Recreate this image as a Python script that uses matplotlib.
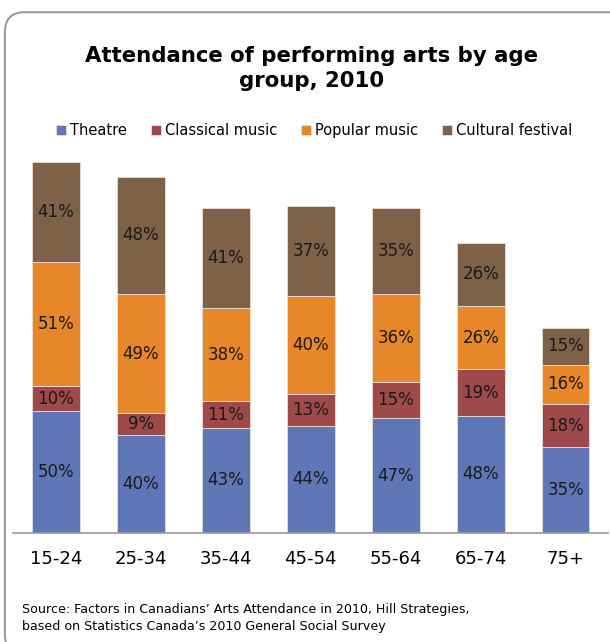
import matplotlib
matplotlib.use("Agg")
import matplotlib.pyplot as plt
from matplotlib.patches import FancyBboxPatch
import numpy as np

# Data
ages = ["15-24", "25-34", "35-44", "45-54", "55-64", "65-74", "75+"]
theatre = [50, 40, 43, 44, 47, 48, 35]
classical = [10, 9, 11, 13, 15, 19, 18]
popular = [51, 49, 38, 40, 36, 26, 16]
festival = [41, 48, 41, 37, 35, 26, 15]

series_names = ["Theatre", "Classical music", "Popular music", "Cultural festival"]
colors = ["#5F77B7", "#9E4A4A", "#E8862A", "#7E6248"]

plt.rcParams['font.family'] = ['DejaVu Sans']

fig = plt.figure(figsize=(6.10, 6.42), dpi=100)

# rounded border around the chart
frame = FancyBboxPatch((0.008, -0.02), 1.05, 1.001, boxstyle="round,pad=0,rounding_size=0.032",
                       transform=fig.transFigure, fill=False, edgecolor="#9a9a9a", linewidth=1.5)
fig.patches.append(frame)

ax = fig.add_axes([0.022, 0.170, 0.975, 0.608])

x = np.arange(len(ages))
bottom = np.zeros(len(ages))
for name, vals, col in zip(series_names, [theatre, classical, popular, festival], colors):
    vals = np.array(vals)
    ax.bar(x, vals, width=0.56, bottom=bottom, color=col, edgecolor="#e8e0d8",
           linewidth=0.6, label=name)
    for xi, b, v in zip(x, bottom, vals):
        ax.text(xi, b + v / 2, f"{v}%", ha="center", va="center", fontsize=12, color="#1a1a1a")
    bottom += vals

ax.set_xlim(-0.5, 6.5)
ax.set_ylim(0, 160)
ax.set_xticks(x)
ax.set_xticklabels(ages, fontsize=13)
ax.tick_params(axis="x", length=0, pad=12)
ax.set_yticks([])
for s in ["top", "right", "left"]:
    ax.spines[s].set_visible(False)
ax.spines["bottom"].set_color("#9a9a9a")
ax.spines["bottom"].set_linewidth(1.2)

fig.text(0.51, 0.893, "Attendance of performing arts by age\ngroup, 2010", ha="center", va="center",
         fontsize=15.3, fontweight="bold", linespacing=1.35)

fig.legend(loc="center", bbox_to_anchor=(0.515, 0.796), ncol=4, frameon=False, fontsize=10.5,
           handlelength=0.7, handleheight=0.7, handletextpad=0.3, columnspacing=1.6)

fig.text(0.036, 0.037, "Source: Factors in Canadians\u2019 Arts Attendance in 2010, Hill Strategies,\n"
         "based on Statistics Canada\u2019s 2010 General Social Survey", ha="left", va="center",
         fontsize=9.1, linespacing=1.4)

fig.savefig("out.png", dpi=100)
